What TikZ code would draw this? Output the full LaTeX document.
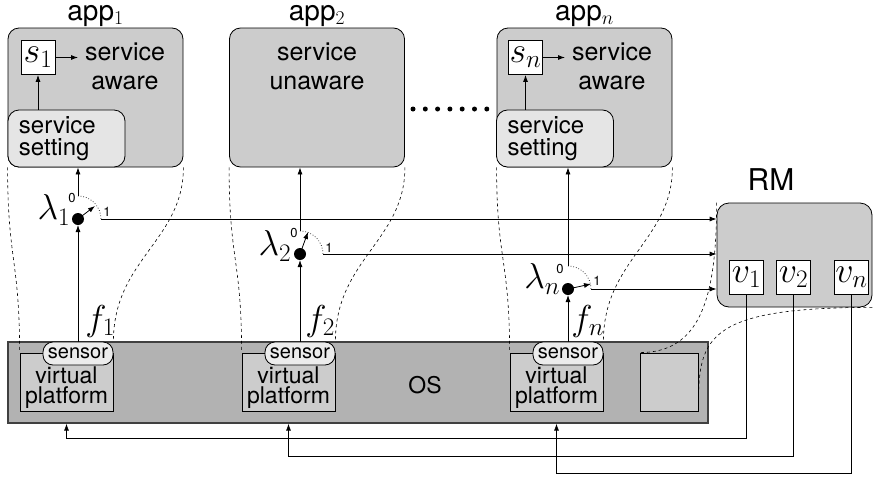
\RequirePackage{fix-cm}
\documentclass[tikz,border=0pt]{standalone}
\usepackage{fontspec}
\setmainfont{TeX Gyre Heros}
\usetikzlibrary{arrows.meta, positioning, calc}
\tikzset{>={Latex[length=7pt,width=5pt]}}

\begin{document}
\begin{tikzpicture}[
  x=1pt, y=-1pt, line width=0.8pt,
  appbox/.style={draw, rounded corners=11pt, fill=gray!40, minimum width=175pt, minimum height=139pt},
  setbox/.style={draw, rounded corners=11pt, fill=gray!20, minimum width=117pt, minimum height=57pt, text width=95pt, inner xsep=11pt, align=left, font=\fontsize{24}{22}\selectfont},
  valbox/.style={draw, fill=white, minimum size=34pt, inner sep=0pt, font=\fontsize{36}{36}\selectfont},
  apptext/.style={align=center, font=\fontsize{25}{29}\selectfont},
  apptitle/.style={inner sep=0pt, font=\fontsize{28}{30}\selectfont},
  osbox/.style={draw=black!75, line width=1.2pt, fill=gray!60, minimum width=700pt, minimum height=81pt},
  vpbox/.style={draw, fill=gray!40, minimum width=93pt, minimum height=58pt},
  vptext/.style={inner sep=0pt, align=center, font=\fontsize{23}{20}\selectfont},
  sensorbox/.style={draw, rounded corners=10pt, fill=gray!15, minimum width=70pt, minimum height=23pt, inner sep=0pt, font=\fontsize{20}{20}\selectfont},
  rmbox/.style={draw, rounded corners=12pt, fill=gray!40, minimum width=155pt, minimum height=104pt},
  swdot/.style={circle, fill=black, inner sep=0pt, minimum size=12pt},
  mathlbl/.style={inner sep=0pt, font=\fontsize{36}{36}\selectfont},
  pinlbl/.style={inner sep=0pt, font=\fontsize{13}{13}\selectfont},
  flow/.style={->},
  spread/.style={dashed, line width=0.6pt},
  swarc/.style={dotted, line width=0.7pt}
]
\useasboundingbox (0,0) rectangle (873,477);

% Applications
\node[appbox] (app1) at (95.5,97.5) {};
\node[apptitle, above=7pt of app1, anchor=base] (name1) {app$_1$};
\node[valbox] (s1) at (38,57.5) {$s_1$};
\node[apptext] (aw1) at (125,66) {service\\aware};
\coordinate (s1e) at (78,57.5);
\draw[flow] (s1) -- (s1e);
\node[setbox] (set1) at (66.5,138.5) {service\\setting};
\draw[flow] (s1.south |- set1.north) -- (s1.south);

\node[appbox] (app2) at (317,97.5) {};
\node[apptitle, above=7pt of app2, anchor=base] (name2) {app$_2$};
\node[apptext] (aw2) at (317,66) {service\\unaware};

\node[appbox] (appn) at (584.5,97.5) {};
\node[apptitle, above=7pt of appn, anchor=base] (namen) {app$_n$};
\node[valbox] (sn) at (525.5,57.5) {$s_n$};
\node[apptext] (awn) at (612,66) {service\\aware};
\coordinate (sne) at (565,57.5);
\draw[flow] (sn) -- (sne);
\node[setbox] (setn) at (555,138.5) {service\\setting};
\draw[flow] (sn.south |- setn.north) -- (sn.south);

% more applications
\draw[line width=5pt, line cap=round, dash pattern=on 0pt off 12.3pt] (413,109) -- (487,109);

% Resource manager
\node[rmbox] (rm) at (794.5,255) {};
\node[apptitle, font=\fontsize{30}{30}\selectfont, anchor=base] (rmname) at (771,190) {RM};
\node[valbox] (v1) at (746.5,277.5) {$v_1$};
\node[valbox] (v2) at (793.5,277.5) {$v_2$};
\node[valbox] (vn) at (851.5,277.5) {$v_n$};

% OS with virtual platforms
\node[osbox] (os) at (358,382.5) {};
\node[apptext, font=\fontsize{23}{23}\selectfont] (ostext) at (425,385) {OS};
\node[vpbox] (vp1) at (66.5,382) {};
\node[vpbox] (vp2) at (288.5,382) {};
\node[vpbox] (vp3) at (556.5,382) {};
\node[vpbox, minimum width=58pt] (sq) at (669,382) {};
\node[vptext] (vpt1) at ([yshift=-5.5pt]vp1.center) {virtual\\platform};
\node[vptext] (vpt2) at ([yshift=-5.5pt]vp2.center) {virtual\\platform};
\node[vptext] (vpt3) at ([yshift=-5.5pt]vp3.center) {virtual\\platform};
\node[sensorbox] (sen1) at (78,353.5) {sensor};
\node[sensorbox] (sen2) at (300,353.5) {sensor};
\node[sensorbox] (sen3) at (568,353.5) {sensor};

% Switch 1
\coordinate (z1) at (78,196);
\coordinate (o1) at (101,219);
\coordinate (k1) at (95,206);
\draw[flow] (z1) -- (z1 |- app1.south);
\draw[flow] (o1) -- (o1 -| rm.west);
\draw[swarc] (z1) .. controls (90.7,196) and (101,206.3) .. (o1);
\draw[flow] (sen1.north) -- (78,225);
\node[swdot] (d1) at (78,219) {};
\draw[flow] (d1.center) -- (k1);
\node[mathlbl, left=1pt of d1, yshift=9pt] (lam1) {$\lambda_1$};
\node[pinlbl] (zero1) at (72,198) {0};
\node[pinlbl] (one1) at (107,212) {1};
\node[mathlbl, above right=4pt and 7pt of sen1.north] (f1) {$f_1$};

% Switch 2
\coordinate (z2) at (300,231);
\coordinate (o2) at (323,254);
\coordinate (k2) at (308,232);
\draw[flow] (z2) -- (z2 |- app2.south);
\draw[flow] (o2) -- (o2 -| rm.west);
\draw[swarc] (z2) .. controls (312.7,231) and (323,241.3) .. (o2);
\draw[flow] (sen2.north) -- (300,260);
\node[swdot] (d2) at (300,254) {};
\draw[flow] (d2.center) -- (k2);
\node[mathlbl, left=2pt of d2, yshift=8pt] (lam2) {$\lambda_2$};
\node[pinlbl] (zero2) at (294,233) {0};
\node[pinlbl] (one2) at (329,248) {1};
\node[mathlbl, above right=4pt and 5pt of sen2.north] (f2) {$f_2$};

% Switch n
\coordinate (zn) at (568,266);
\coordinate (on) at (591,289);
\coordinate (kn) at (591,284);
\draw[flow] (zn) -- (zn |- appn.south);
\draw[flow] (on) -- (on -| rm.west);
\draw[swarc] (zn) .. controls (580.7,266) and (591,276.3) .. (on);
\draw[flow] (sen3.north) -- (568,295);
\node[swdot] (dn) at (568,289) {};
\draw[flow] (dn.center) -- (kn);
\node[mathlbl, left=1pt of dn, yshift=10pt] (lamn) {$\lambda_n$};
\node[pinlbl] (zeron) at (560,269) {0};
\node[pinlbl] (onen) at (597,281) {1};
\node[mathlbl, above right=4pt and 3pt of sen3.north] (fn) {$f_n$};

% Mapping of the applications onto the platforms
\draw[spread] (app1.south west) .. controls +(0,93) and +(0,-93) .. (vp1.north west);
\draw[spread] (app1.south east) .. controls +(0,73) and +(0,-82) .. (sen1.north east);
\draw[spread] (app2.south west) .. controls +(0,93) and +(0,-93) .. (vp2.north west);
\draw[spread] (app2.south east) .. controls +(0,73) and +(0,-82) .. (sen2.north east);
\draw[spread] (appn.south west) .. controls +(0,93) and +(0,-93) .. (vp3.north west);
\draw[spread] (appn.south east) .. controls +(0,73) and +(0,-82) .. (sen3.north east);
\draw[spread] (rm.north west) .. controls +(0,97) and +(60,0) .. (sq.north west);
\draw[spread] (rm.south east) .. controls +(-172,0) and +(0,-71) .. (sq.south east);

% Values back to the platforms
\draw[flow] (v1.south) -- ++(0,143) -| (vp1.south |- os.south);
\draw[flow] (v2.south) -- ++(0,161) -| (vp2.south |- os.south);
\draw[flow] (vn.south) -- ++(0,178) -| (vp3.south |- os.south);

\end{tikzpicture}
\end{document}
